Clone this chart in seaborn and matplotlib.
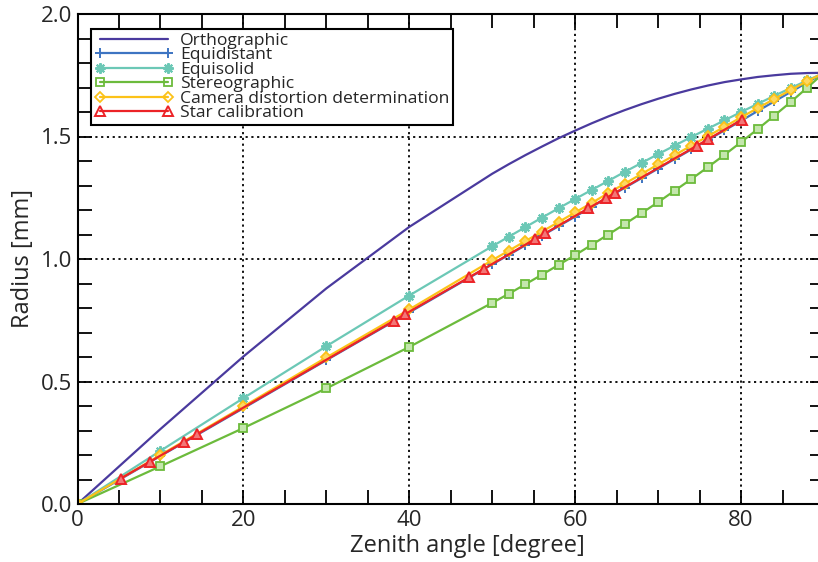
import numpy as np
import pandas as pd
import matplotlib
matplotlib.use("Agg")
import matplotlib.pyplot as plt
import seaborn as sns
from matplotlib.ticker import MultipleLocator

# ---------------- data ----------------
theta = [0, 10, 20, 30, 40, 50, 52, 54, 56, 58, 60, 62, 64, 66, 68, 70,
         72, 74, 76, 78, 80, 82, 84, 86, 88, 90]

orthographic = [0.000, 0.306, 0.602, 0.880, 1.131, 1.348, 1.387, 1.424, 1.459,
                1.493, 1.524, 1.554, 1.582, 1.608, 1.632, 1.654, 1.674, 1.692,
                1.708, 1.722, 1.733, 1.743, 1.750, 1.756, 1.759, 1.760]

equidistant = [0.000, 0.196, 0.391, 0.587, 0.782, 0.978, 1.017, 1.056, 1.095,
               1.134, 1.173, 1.213, 1.252, 1.291, 1.330, 1.369, 1.408, 1.447,
               1.486, 1.525, 1.564, 1.604, 1.643, 1.682, 1.721, 1.760]

equisolid = [0.000, 0.217, 0.432, 0.644, 0.851, 1.052, 1.091, 1.130, 1.169,
             1.207, 1.245, 1.282, 1.319, 1.356, 1.392, 1.428, 1.463, 1.498,
             1.532, 1.566, 1.600, 1.633, 1.666, 1.698, 1.729, 1.760]

stereographic = [0.000, 0.154, 0.310, 0.472, 0.641, 0.821, 0.858, 0.897, 0.936,
                 0.976, 1.016, 1.058, 1.100, 1.143, 1.187, 1.232, 1.279, 1.326,
                 1.375, 1.425, 1.477, 1.530, 1.585, 1.641, 1.700, 1.760]

camera = [0.000, 0.200, 0.398, 0.598, 0.794, 0.995, 1.034, 1.073, 1.112,
          1.151, 1.190, 1.229, 1.269, 1.308, 1.347, 1.386, 1.424, 1.463,
          1.501, 1.540, 1.578, 1.616, 1.653, 1.690, 1.726, 1.760]

star_theta = [5.2, 8.75, 12.85, 14.4, 38.1, 39.5, 47.2, 49.0, 55.2, 56.4,
              61.6, 63.75, 64.8, 74.7, 76.05, 80.1]
star_radius = [0.104, 0.173, 0.253, 0.284, 0.747, 0.775, 0.925, 0.960, 1.082,
               1.105, 1.207, 1.249, 1.270, 1.463, 1.489, 1.569]

labels = ["Orthographic", "Equidistant", "Equisolid", "Stereographic",
          "Camera distortion determination", "Star calibration"]

# ---------------- style ----------------
sns.set_style("ticks")
plt.rcParams["font.family"] = ["Open Sans", "DejaVu Sans"]

fig = plt.figure(figsize=(8.18, 5.62), dpi=100)
ax = fig.add_axes([77.5 / 818, 58 / 562, 746.5 / 818, 490 / 562])

colors = ["#4a3a9e", "#3d74c2", "#6cc8b6", "#6cbb3c", "#fcc218", "#ec2327"]
styles = [
    dict(marker=None),
    dict(marker="+", markersize=7, markeredgewidth=1.4),
    dict(marker=(8, 2, 0), markersize=7.5, markeredgewidth=1.5),
    dict(marker="s", markersize=5.5, markeredgewidth=1.3,
         markerfacecolor="#c4e6ad"),
    dict(marker="D", markersize=4.8, markeredgewidth=1.3,
         markerfacecolor="#fdd862"),
]
series = [orthographic, equidistant, equisolid, stereographic, camera]

for lab, yv, st, col in zip(labels[:5], series, styles, colors[:5]):
    df = pd.DataFrame({"x": theta, "y": yv})
    kw = dict(st)
    if kw.get("marker") is not None:
        kw["markeredgecolor"] = col
    sns.lineplot(data=df, x="x", y="y", ax=ax, label=lab, linewidth=1.6,
                 color=col, sort=False, **kw)

df_star = pd.DataFrame({"x": star_theta, "y": star_radius})
sns.lineplot(data=df_star, x="x", y="y", ax=ax, label=labels[5],
             color=colors[5], marker="^", markersize=6.5, markeredgewidth=1.4,
             markeredgecolor=colors[5], markerfacecolor="#f27777",
             linewidth=1.6, sort=False)

ax.set_xlim(0, 90)
ax.set_ylim(0, 2.0)
ax.xaxis.set_major_locator(MultipleLocator(20))
ax.xaxis.set_minor_locator(MultipleLocator(5))
ax.yaxis.set_minor_locator(MultipleLocator(0.1))
ax.set_yticks([0.0, 0.5, 1.0, 1.5, 2.0])
ax.set_yticklabels(["0.0", "0.5", "1.0", "1.5", "2.0"])

ax.tick_params(which="both", direction="in", top=True, right=True,
               length=10, width=1.3, color="black", labelsize=16, pad=4)
ax.grid(True, which="major", color="black", linestyle=(0, (1.2, 2.0)),
        linewidth=1.3)
for s in ax.spines.values():
    s.set_color("black")
    s.set_linewidth(1.5)
    s.set_visible(True)

ax.set_xlabel("Zenith angle [degree]", fontsize=17)
ax.set_ylabel("Radius [mm]", fontsize=17)
ax.xaxis.set_label_coords(0.522, -0.062)
ax.yaxis.set_label_coords(-0.057, 0.5)

leg = ax.legend(loc="upper left", bbox_to_anchor=(0.018, 0.969),
                borderaxespad=0, fontsize=12.6, frameon=True, fancybox=False,
                handlelength=4.5, handletextpad=0.4, labelspacing=-0.1,
                borderpad=0.2, numpoints=2)
leg.get_frame().set_edgecolor("black")
leg.get_frame().set_linewidth(1.5)
leg.get_frame().set_alpha(1)
for h in leg.get_lines():
    if h.get_marker() != (8, 2, 0):
        h.set_markerfacecolor("none")

fig.savefig("out.png", dpi=100)
